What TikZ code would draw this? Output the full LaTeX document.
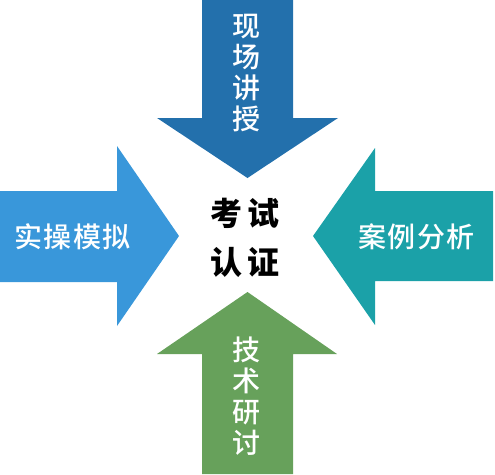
\documentclass[tikz,border=0pt]{standalone}
\usepackage{fontspec}
\newfontfamily\cjk{Noto Sans CJK SC}
\newfontfamily\cjkm{Noto Sans CJK SC Medium}
\definecolor{cTop}{HTML}{2370AC}
\definecolor{cLeft}{HTML}{3997DA}
\definecolor{cRight}{HTML}{1BA1A8}
\definecolor{cBot}{HTML}{67A15B}
\tikzset{
  lbl/.style={text=white, inner sep=0pt, align=center, font=\cjkm\fontsize{28}{31}\selectfont},
  ctr/.style={text=black, inner sep=0pt, align=center, font=\cjk\bfseries\fontsize{32}{49}\selectfont}
}
\newcommand{\gap}{\hspace{1.5pt}}
\begin{document}
\begin{tikzpicture}[x=1pt,y=-1pt]
\useasboundingbox (0,0) rectangle (495,474);
\fill[cTop] (202,0) -- (293,0) -- (293,118) -- (338,118) -- (247.5,178) -- (157,118) -- (202,118) -- cycle;
\fill[cBot] (202,474) -- (293,474) -- (293,354) -- (337,354) -- (247.5,292) -- (157,354) -- (202,354) -- cycle;
\fill[cLeft] (0,191) -- (117,191) -- (117,146) -- (179,236) -- (117,326) -- (117,282) -- (0,282) -- cycle;
\fill[cRight] (493,191) -- (375,191) -- (375,148) -- (313,236) -- (375,325) -- (375,281) -- (493,281) -- cycle;
\node[lbl] (t) at (246,73) {现\\场\\讲\\授};
\node[lbl] (b) at (246,396) {技\\术\\研\\讨};
\node[lbl] (l) at (72.5,237) {实\gap 操\gap 模\gap 拟};
\node[lbl] (r) at (416.5,237) {案\gap 例\gap 分\gap 析};
\node[ctr] (c) at (245,237.5) {考\hspace{5pt}试\\认\hspace{5pt}证};
\end{tikzpicture}
\end{document}
